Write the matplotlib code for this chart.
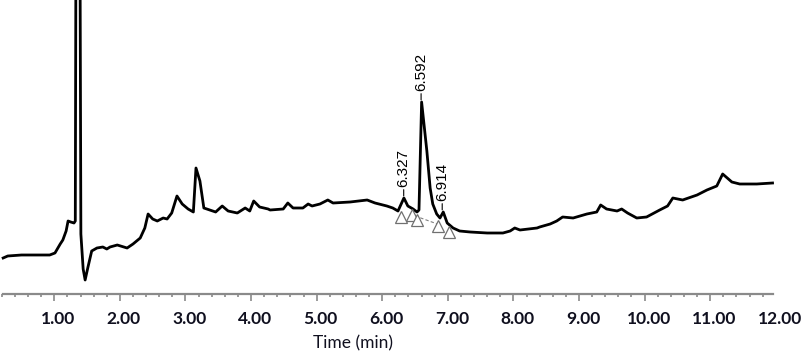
import matplotlib
matplotlib.use("Agg")
import matplotlib.pyplot as plt
from matplotlib.ticker import FixedLocator
import matplotlib.transforms as mtransforms

# Chromatogram trace (time in min, detector response in arbitrary units)
time_min = [0.22, 0.29, 0.50, 0.93, 1.01, 1.09, 1.13, 1.18, 1.21, 1.25, 1.30, 1.32,
            1.335, 1.385, 1.405, 1.44, 1.47, 1.51, 1.57, 1.65, 1.74, 1.80, 1.85, 1.96,
            2.11, 2.20, 2.31, 2.38, 2.43, 2.50, 2.57, 2.66, 2.72, 2.79, 2.87, 2.95,
            3.04, 3.12, 3.16, 3.22, 3.28, 3.37, 3.46, 3.56, 3.65, 3.79, 3.91, 3.98,
            4.04, 4.13, 4.26, 4.29, 4.49, 4.56, 4.64, 4.79, 4.87, 4.93, 5.05, 5.17,
            5.25, 5.51, 5.77, 5.89, 6.07, 6.16, 6.24, 6.33, 6.39, 6.47, 6.53, 6.56,
            6.60, 6.68, 6.73, 6.77, 6.83, 6.88, 6.93, 6.99, 7.08, 7.18, 7.34, 7.60,
            7.84, 7.95, 8.02, 8.10, 8.36, 8.40, 8.56, 8.66, 8.75, 8.91, 9.12, 9.27,
            9.33, 9.42, 9.58, 9.65, 9.74, 9.88, 10.03, 10.23, 10.35, 10.43, 10.58,
            10.80, 10.95, 11.10, 11.19, 11.33, 11.45, 11.71, 11.95]
response = [36, 38, 39, 39, 41, 50, 54, 63, 73, 72, 71, 73,
            500, 500, 60, 25, 14, 26, 43, 46, 47, 45, 47, 49,
            46, 50, 56, 66, 80, 75, 73, 76, 75, 81, 98, 90,
            85, 82, 126, 113, 86, 84, 82, 88, 83, 81, 86, 83,
            93, 87, 85, 84, 85, 91, 86, 86, 90, 88, 90, 94,
            91, 92, 94, 91, 88, 86, 83, 96, 88, 85, 82, 84,
            192, 143, 106, 90, 80, 76, 82, 71, 66, 63, 62, 61,
            61, 63, 66, 64, 66, 67, 70, 73, 77, 76, 80, 82,
            89, 85, 83, 85, 81, 76, 77, 84, 88, 96, 94,
            99, 104, 108, 120, 112, 110, 110, 111]

# Integrated peaks
peak_rt = [6.327, 6.592, 6.914]
peak_height = [96, 192, 82]
peak_labels = ["6.327", "6.592", "6.914"]

# Integration start/end markers and baseline
marker_t = [6.29, 6.45, 6.53, 6.85, 7.02]
marker_v = [77, 79, 74, 68, 62]
baseline_t = [6.42, 6.84]
baseline_v = [80, 70]

x_ticks = [1, 2, 3, 4, 5, 6, 7, 8, 9, 10, 11, 12]
x_ticklabels = ["1.00", "2.00", "3.00", "4.00", "5.00", "6.00", "7.00", "8.00",
                "9.00", "10.00", "11.00", "12.00"]

W, H = 804, 355
fig = plt.figure(figsize=(W / 100, H / 100), dpi=100)
ax_bottom_px = 294
ax = fig.add_axes([0, (H - ax_bottom_px) / H, 1, ax_bottom_px / H])

ax.plot(time_min, response, color="black", lw=2.0, solid_joinstyle="round", zorder=3)

ax.plot(baseline_t, baseline_v, color="#808080", lw=0.8, ls=(0, (3, 2)), zorder=2)
ax.plot(marker_t, marker_v, ls="none", marker="^", markersize=8.5,
        markerfacecolor="white", markeredgecolor="#707070", markeredgewidth=0.9, zorder=4)

for rt, h, lab in zip(peak_rt, peak_height, peak_labels):
    ax.annotate(lab, xy=(rt, h), xytext=(0, 8), textcoords="offset points",
                rotation=90, ha="center", va="bottom", fontsize=11,
                family="Liberation Sans", color="black",
                arrowprops=dict(arrowstyle="-", color="black", lw=0.8,
                                shrinkA=0, shrinkB=1.5), zorder=5)

ax.set_xlim(0.172, 12.43)
ax.set_ylim(0, ax_bottom_px)

for s in ["top", "right", "left"]:
    ax.spines[s].set_visible(False)
ax.spines["bottom"].set_color("#8a8a8a")
ax.spines["bottom"].set_linewidth(1.6)
ax.spines["bottom"].set_bounds(0.218, 11.956)

ax.set_yticks([])
ax.xaxis.set_major_locator(FixedLocator(x_ticks))
ax.set_xticklabels(x_ticklabels)
ax.xaxis.set_minor_locator(FixedLocator([round(0.2 * i, 1) for i in range(1, 60) if i % 5 != 0]))
ax.tick_params(axis="x", which="major", direction="out", length=5, width=1.2,
               color="#8a8a8a", pad=7)
ax.tick_params(axis="x", which="minor", direction="out", length=2.5, width=1.2,
               color="#8a8a8a")
ax.xaxis.get_major_ticks()[-1].tick1line.set_visible(False)

offset = mtransforms.ScaledTranslation(4 / 100, 0, fig.dpi_scale_trans)
for lbl in ax.get_xticklabels():
    lbl.set_fontfamily("Lato")
    lbl.set_fontweight("bold")
    lbl.set_fontsize(12.5)
    lbl.set_color("#10101f")
    lbl.set_transform(lbl.get_transform() + offset)

ax.set_xlabel("Time (min)", fontsize=12.5, family="Lato", color="#10101f")
ax.xaxis.label.set_va("center")
ax.xaxis.set_label_coords(353 / W, (ax_bottom_px - 343) / ax_bottom_px)

fig.savefig("out.png", dpi=100, facecolor="white")
